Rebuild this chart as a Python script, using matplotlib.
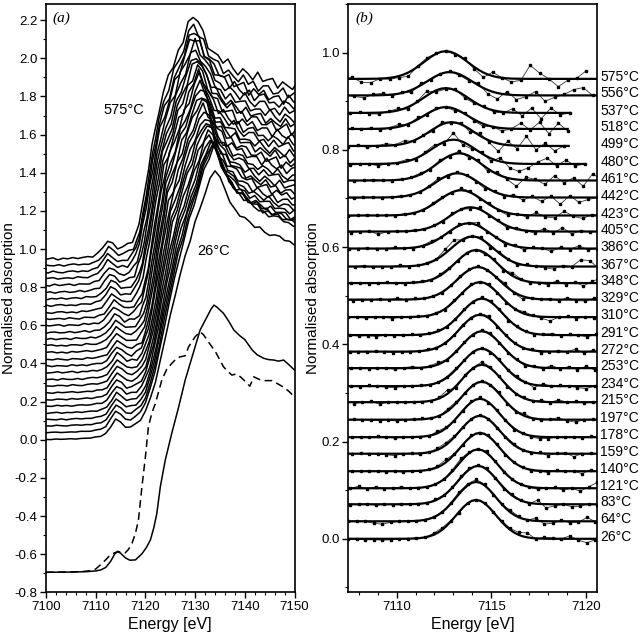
import numpy as np
import matplotlib
matplotlib.use("Agg")
import matplotlib.pyplot as plt
from matplotlib.ticker import MultipleLocator, FormatStrFormatter

plt.rcParams["font.family"] = ["Liberation Sans", "DejaVu Sans"]
plt.rcParams["axes.unicode_minus"] = False

# ---------------- data ----------------
temps = [26, 64, 83, 121, 140, 159, 178, 197, 215, 234, 253, 272, 291, 310,
         329, 348, 367, 386, 405, 423, 442, 461, 480, 499, 518, 537, 556, 575]
# vertical offsets of the stacked spectra (same in both panels)
offsets = [0.000, 0.036, 0.071, 0.104, 0.139, 0.175, 0.209, 0.245, 0.281, 0.314,
           0.351, 0.385, 0.419, 0.456, 0.492, 0.526, 0.560, 0.597, 0.632, 0.665,
           0.702, 0.737, 0.771, 0.808, 0.843, 0.876, 0.912, 0.946]

# panel (a): 26 C spectrum read on a 1 eV grid (7094 ... 7156 eV)
energy_a = np.arange(7094, 7157)
spec_26 = [0.000, 0.000, 0.000, 0.001, 0.001, 0.001, 0.001, 0.002, 0.002, 0.003,
           0.003, 0.004, 0.005, 0.006, 0.008, 0.010, 0.013, 0.018, 0.032, 0.068,
           0.108, 0.092, 0.066, 0.068, 0.080, 0.105, 0.150, 0.215, 0.305, 0.415,
           0.535, 0.650, 0.760, 0.865, 0.960, 1.050, 1.135, 1.215, 1.295, 1.365,
           1.420, 1.375, 1.305, 1.250, 1.210, 1.180, 1.160, 1.140, 1.120, 1.105,
           1.090, 1.080, 1.070, 1.060, 1.050, 1.040, 1.030, 1.025, 1.020, 1.015,
           1.010, 1.005, 1.000]
# shift to lower energy (eV) of the white line and its scale, per spectrum
edge_shift = [0.0, 0.2, 0.4, 0.6, 0.8, 1.0, 1.2, 1.4, 1.6, 1.8, 2.0, 2.2, 2.4, 2.6,
              2.7, 2.9, 3.0, 3.2, 3.3, 3.5, 3.6, 3.8, 3.9, 4.0, 4.1, 4.2, 4.3, 4.4]
scale_a = [1.00, 1.06, 1.04, 1.02, 1.00, 0.99, 0.98, 0.97, 0.97, 0.96, 0.95, 0.95,
           0.94, 0.94, 0.93, 0.93, 0.92, 0.92, 0.91, 0.91, 0.91, 0.90, 0.90, 0.90,
           0.90, 0.89, 0.89, 0.90]
noise_a = [0.5, 0.6, 0.7, 0.8, 0.8, 0.9, 0.9, 1.0, 1.0, 1.0, 1.1, 1.1, 1.1, 1.2,
           1.2, 1.2, 1.2, 1.3, 1.3, 1.3, 1.3, 1.3, 1.4, 1.4, 1.4, 1.4, 1.4, 1.4]
# measurement scatter pattern (relative) and its size along the spectrum
jitter = [0.3, -0.5, 0.8, -0.2, -0.9, 0.6, 0.1, -0.7, 0.9, -0.4, 0.2, 0.7, -0.8,
          0.4, -0.1, -0.6, 1.0, -0.3, 0.5, -0.9, 0.3, 0.6, -0.5, -0.2, 0.8, -0.7,
          0.1, 0.9, -1.0, 0.4, -0.3, 0.7, -0.6, 0.2, 0.5, -0.8, 0.9, -0.1, -0.5,
          0.6, -0.9, 0.3, 0.8, -0.4, 0.0, -0.7, 0.5, 0.2, -0.6, 1.0, -0.2, -0.8,
          0.4, 0.7, -0.5, 0.1, -0.9, 0.6, -0.3, 0.3, 0.8, -0.6, 0.0]
scatter_size = [0.004] * 23 + [0.010] * 10 + [0.022] * 30

# reference spectra (bottom of panel a)
ref_solid_e = [7100, 7105, 7108, 7110, 7111, 7112, 7113, 7113.8, 7114.4, 7115.0,
               7116.0, 7116.9, 7118.0, 7119.3, 7120.2, 7121.0, 7121.7, 7122.3, 7123.0, 7124.0,
               7125.3, 7126.7, 7128.0, 7129.4, 7131.0, 7132.4, 7133.2, 7133.8, 7134.4, 7135.7,
               7136.8, 7137.8, 7139.0, 7140.0, 7141.5, 7142.5, 7143.8, 7144.8, 7145.8, 7146.8,
               7147.8, 7148.8, 7150.0]
ref_solid_y = [-0.695, -0.694, -0.692, -0.688, -0.683, -0.670, -0.638, -0.600, -0.585, -0.595,
               -0.620, -0.632, -0.630, -0.598, -0.565, -0.526, -0.460, -0.386, -0.246, -0.106,
               0.034, 0.173, 0.313, 0.435, 0.575, 0.645, 0.685, 0.706, 0.695, 0.663,
               0.620, 0.575, 0.545, 0.525, 0.470, 0.445, 0.427, 0.420, 0.418, 0.412,
               0.418, 0.395, 0.365]
ref_dash_e = [7100, 7104, 7107, 7109, 7110.0, 7110.9, 7112.0, 7112.9, 7113.8, 7114.6,
              7115.3, 7115.9, 7116.6, 7117.3, 7118.0, 7118.6, 7119.3, 7120.0, 7120.6, 7121.3,
              7122.0, 7123.3, 7124.3, 7125.3, 7126.2, 7127.0, 7128.0, 7128.7, 7130.0, 7131.0,
              7131.7, 7132.4, 7134.1, 7135.7, 7136.5, 7137.4, 7138.3, 7139.1, 7140.5, 7141.0,
              7141.8, 7142.6, 7143.5, 7145.5, 7146.5, 7147.5, 7148.8, 7150.0]
ref_dash_y = [-0.695, -0.694, -0.692, -0.687, -0.678, -0.657, -0.630, -0.605, -0.593, -0.587,
              -0.590, -0.594, -0.575, -0.543, -0.490, -0.421, -0.246, -0.089, 0.068, 0.140,
              0.190, 0.313, 0.370, 0.400, 0.425, 0.435, 0.440, 0.488, 0.540, 0.566,
              0.550, 0.523, 0.461, 0.383, 0.360, 0.339, 0.345, 0.330, 0.296, 0.280,
              0.330, 0.320, 0.310, 0.310, 0.295, 0.280, 0.255, 0.225]

# panel (b): pre-edge peak fits (centre eV, height, relative width)
centres = [7114.2, 7114.2, 7114.3, 7114.3, 7114.4, 7114.4, 7114.4, 7114.5, 7114.5, 7114.5,
           7114.5, 7114.4, 7114.5, 7114.4, 7114.3, 7114.2, 7114.0, 7113.8, 7113.9, 7113.4,
           7113.2, 7113.3, 7113.0, 7112.9, 7112.6, 7112.6, 7112.8, 7112.6]
heights = [0.080, 0.081, 0.079, 0.080, 0.079, 0.078, 0.079, 0.078, 0.077, 0.077,
           0.076, 0.076, 0.075, 0.072, 0.067, 0.068, 0.062, 0.052, 0.050, 0.052,
           0.050, 0.056, 0.050, 0.049, 0.045, 0.051, 0.048, 0.057]
widths = [1.0, 1.0, 1.0, 1.0, 1.0, 1.0, 1.0, 1.0, 1.0, 1.02, 1.02, 1.02, 1.03, 1.03,
          1.05, 1.05, 1.06, 1.08, 1.08, 1.1, 1.1, 1.12, 1.1, 1.1, 1.1, 1.12, 1.12, 1.1]
data_end = {480: 7120.1, 499: 7119.2, 518: 7119.2, 537: 7119.2}
# normalised fit profile, 0.225 eV steps from the centre
profile_half = [1.0, 0.977, 0.912, 0.813, 0.693, 0.563, 0.438, 0.325, 0.230, 0.156,
                0.101, 0.062, 0.037, 0.021, 0.011, 0.006, 0.003, 0.001] + [0.0] * 23
# measured points minus fit (x 0.001), 0.45 eV steps, 15 steps either side of centre
residuals = [
    "0 -1 -2 -2 -3  -2 -1 0 1 0  3 4 2 -2 1  0 1 -1 2 3  5 9 -1 3 2  0 6 -3 -8 -2  0",
    "0 1 0 -4 -6  -2 0 1 -1 0  1 0 2 4 3  5 2 -2 0 4  2 -1 6 -6 -4  2 -3 -2 8 -1  0",
    "-1 0 1 -2 0  -1 1 0 0 -1  2 1 0 3 2  1 3 -1 -3 2  1 -2 8 -8 -3  0 -5 -4 1 -1  0",
    "0 4 -2 3 -1  0 3 0 -1 0  1 0 3 6 2  0 4 1 -2 0  1 -1 -3 0 2  -4 0 -6 3 12  -5",
    "0 0 1 0 -1  0 -2 1 0 1  2 6 1 0 2  -1 3 1 -2 1  0 -2 -1 -3 2  1 0 -5 3 -2  0",
    "0 1 0 -1 -2  -4 0 1 -2 0  3 5 2 1 0  2 0 -2 1 3  0 -1 2 -4 1  2 -6 0 1 0  0",
    "0 1 0 2 1  -2 0 1 0 -1  4 2 -1 0 2  3 -1 2 0 -3  1 -2 -4 -3 0  1 0 -1 2 -2  0",
    "1 0 -1 -2 0  -3 0 1 2 0  -1 4 3 0 1  2 1 3 -2 -2  5 -1 -2 1 4  -2 -5 0 1 -3  0",
    "-3 0 2 -4 0  0 1 0 0 -1  2 8 -5 3 1  6 2 0 -2 0  2 -1 3 -1 5  0 2 -2 0 1  0",
    "0 -1 2 0 -2  -3 0 0 1 0  1 2 3 0 1  2 -2 2 -1 3  1 -6 4 0 2  1 -3 -5 0 2  -1",
    "0 1 -1 0 0  -2 1 3 0 2  4 0 2 1 -1  2 3 0 -2 1  -4 2 -2 5 -1  3 -3 4 -4 2  0",
    "0 0 -1 1 0  -2 0 -1 0 2  0 1 0 3 -1  2 4 -2 0 1  -1 2 -3 0 2  0 5 -3 3 -4  0",
    "0 -2 -1 -3 0  -1 0 1 0 1  2 0 1 2 0  3 2 1 -3 2  0 -2 1 3 -1  2 0 -4 2 1  0",
    "1 0 -2 0 1  -3 0 0 1 0  2 -1 3 0 2  1 3 0 -2 0  4 1 -3 -8 0  2 -3 1 -1 2  0",
    "0 -2 -1 0 1  0 3 -1 2 0  1 -2 0 3 1  2 -1 0 5 -2  -6 1 0 2 -3  4 -2 -3 3 -2  0",
    "0 1 0 -1 0  2 0 -2 1 2  0 3 2 -1 0  1 -3 2 -4 6  2 -2 0 -4 5  -3 2 -6 4 10  0",
    "0 1 0 2 -1  0 0 3 -1 0  2 1 8 12 -2  0 4 -5 3 1  -4 2 0 -3 -5  2 0 14 12 -4  0",
    "0 -1 0 0 1  -1 0 2 0 -2  1 4 0 -2 3  1 6 -2 0 -4  3 -5 2 0 -6  3 -2 6 -3 0  0",
    "0 2 -2 0 1  -6 0 1 0 2  0 1 -2 3 0  -3 4 -2 1 -5  3 0 -4 6 -3  8 -5 2 -1 0  0",
    "0 -1 0 -2 0  1 0 0 -1 2  0 -1 3 2 -2  4 2 -3 3 -1  -5 2 -4 6 -3  -5 9 -2 -6 2  0",
    "0 -4 0 1 -2  0 1 -1 0 2  0 -1 2 5 -3  2 0 -2 -4 2  -3 4 -6 2 -8  3 -14 4 -10 -4  0",
    "-1 0 1 0 -1  0 2 0 -1 0  1 3 -2 4 -2  5 -4 3 -6 4  -3 -14 6 2 -8  10 -5 6 -12 14  0",
    "0 -2 1 0 -2  -1 0 -4 0 1  4 -3 3 5 -4  14 -6 -4 3 -6  8 -10 -16 -8 4  12 -4 8 -4 0  0",
    "0 -4 -2 0 -2  2 -3 0 4 1  6 -2 1 -4 5  -2 3 -6 5 -4  -16 8 -6 20 -8  6 -10 0 0 0  0",
    "0 0 -1 0 0  1 0 2 -3 1  5 -2 4 -3 2  0 -4 2 -3 -5  0 -6 0 12 -2  14 -10 12 -4 0  0",
    "0 -1 2 0 -2  0 1 -2 -3 1  4 -4 2 9 -3  -2 2 -5 -3 2  -3 -2 8 -6 10  -12 10 -4 0 0  0",
    "-1 0 0 2 0  -2 -5 2 4 -3  2 -5 4 -2 0  2 -2 -3 4 -8  -12 6 -9 -3 8  -12 -4 2 12 16  0",
    "0 0 0 0 0  3 -7 -8 0 -3  -3 -8 2 4 1  0 -2 3 -4 -10  8 0 -7 -3 28  12 0 -16 -3 2  17",
]

# ---------------- figure ----------------
fig = plt.figure(figsize=(6.4, 6.34), dpi=100)
ax_a = fig.add_axes([0.0719, 0.0658, 0.3883, 0.9279])
ax_b = fig.add_axes([0.5442, 0.0658, 0.3891, 0.9279])

env = np.array(scatter_size)
jit = np.array(jitter)
base = np.array(spec_26)
for i, t in enumerate(temps):
    pre = 7114.2 - centres[i]
    # pre-edge follows the panel (b) peak position, white line follows edge_shift
    shift = np.interp(energy_a, [7119, 7127], [pre, edge_shift[i]])
    x = energy_a - shift
    y = offsets[i] + scale_a[i] * base + noise_a[i] * env * np.roll(jit, 11 * i)
    ax_a.plot(x, y, color="black", lw=1.1)

ax_a.plot(ref_solid_e, ref_solid_y, color="black", lw=1.1)
ax_a.plot(ref_dash_e, ref_dash_y, color="black", lw=1.1, ls=(0, (5, 3)))

ax_a.text(7115.6, 1.73, "575°C", fontsize=10.5, ha="center", va="center")
ax_a.text(7133.8, 0.99, "26°C", fontsize=10.5, ha="center", va="center")
ax_a.text(0.024, 0.975, "(a)", transform=ax_a.transAxes, fontsize=11,
          family="Liberation Serif", style="italic", va="center")

ax_a.set_xlim(7100, 7150)
ax_a.set_ylim(-0.8, 2.285)
ax_a.xaxis.set_major_locator(MultipleLocator(10))
ax_a.xaxis.set_minor_locator(MultipleLocator(2))
ax_a.yaxis.set_major_locator(MultipleLocator(0.2))
ax_a.yaxis.set_minor_locator(MultipleLocator(0.1))
ax_a.yaxis.set_major_formatter(FormatStrFormatter("%.1f"))

# panel (b)
prof = np.array(profile_half[:0:-1] + profile_half)
u = 0.225 * np.arange(-40, 41)
for i, t in enumerate(temps):
    xf = centres[i] + widths[i] * u
    yf = offsets[i] + heights[i] * prof
    xd = xf[10:71:2]
    yd = yf[10:71:2] + np.array(residuals[i].split(), dtype=float) / 1000.0
    if t in data_end:
        keep = xf <= data_end[t]
        xf, yf = xf[keep], yf[keep]
        keep = xd <= data_end[t]
        xd, yd = xd[keep], yd[keep]
    ax_b.plot(xd, yd, color="0.2", lw=0.6, marker="s", ms=2.0, mfc="black", mec="black")
    ax_b.plot(xf, yf, color="black", lw=1.6)
    ax_b.text(1.012, offsets[i] + 0.004, f"{t}°C", transform=ax_b.get_yaxis_transform(),
              fontsize=10, va="center", ha="left")

ax_b.text(0.027, 0.975, "(b)", transform=ax_b.transAxes, fontsize=11,
          family="Liberation Serif", style="italic", va="center")
ax_b.set_xlim(7107.45, 7120.6)
ax_b.set_ylim(-0.11, 1.1)
ax_b.xaxis.set_major_locator(MultipleLocator(5))
ax_b.xaxis.set_minor_locator(MultipleLocator(1))
ax_b.yaxis.set_major_locator(MultipleLocator(0.2))
ax_b.yaxis.set_minor_locator(MultipleLocator(0.1))
ax_b.yaxis.set_major_formatter(FormatStrFormatter("%.1f"))

for ax, lx in ((ax_a, -0.121), (ax_b, -0.113)):
    ax.set_xlabel("Energy [eV]", fontsize=11.5)
    ax.set_ylabel("Normalised absorption", fontsize=11)
    ax.yaxis.set_label_coords(lx, 0.5)
    ax.xaxis.set_label_coords(0.5, -0.042)
    ax.tick_params(which="major", direction="out", length=4, width=1.0, labelsize=9.5, pad=2)
    ax.tick_params(which="minor", direction="out", length=2, width=0.8)
    for s in ax.spines.values():
        s.set_linewidth(1.2)

fig.savefig("out.png", dpi=100)
